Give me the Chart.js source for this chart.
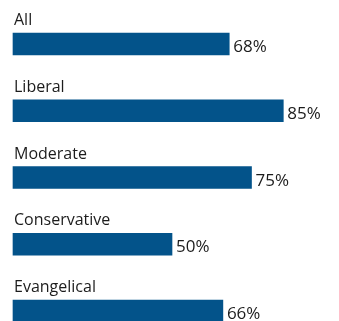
<!DOCTYPE html>
<html>
<head>
<meta charset="utf-8">
<script src="https://cdn.jsdelivr.net/npm/chart.js@4"></script>
<style>
  html, body { margin: 0; padding: 0; background: #fff; overflow: hidden; }
  canvas { display: block; }
</style>
</head>
<body>
<canvas id="chart" width="339" height="321"></canvas>
<script>
// === DATA === //
const categories = ['All', 'Liberal', 'Moderate', 'Conservative', 'Evangelical'];
const shares = [68, 85, 75, 50, 66];
const valueLabels = ['68%', '85%', '75%', '50%', '66%'];

const barColor = '#03538a';
const textColor = '#1c1c1c';

// draws the group name above each bar and the percent to its right
const barLabels = {
  id: 'barLabels',
  afterDatasetsDraw(chart) {
    const ctx = chart.ctx;
    const meta = chart.getDatasetMeta(0);
    const left = chart.chartArea.left;
    ctx.save();
    ctx.fillStyle = textColor;
    ctx.textBaseline = 'alphabetic';
    meta.data.forEach((bar, i) => {
      const top = bar.y - bar.height / 2;
      ctx.font = '16px "Open Sans"';
      ctx.textAlign = 'left';
      ctx.fillText(categories[i], left + 1, top - 8);
      ctx.font = '17px "Open Sans"';
      ctx.fillText(valueLabels[i], bar.x + 4, bar.y + 8);
    });
    ctx.restore();
  }
};

new Chart(document.getElementById('chart'), {
  type: 'bar',
  data: {
    labels: categories,
    datasets: [
      {
        data: shares,
        backgroundColor: barColor,
        borderWidth: 0,
        barThickness: 22,
        clip: false
      }
    ]
  },
  options: {
    indexAxis: 'y',
    responsive: false,
    animation: false,
    layout: {
      padding: { left: 13, right: 8, top: 44, bottom: 10 }
    },
    scales: {
      x: { display: false, min: 0, max: 100 },
      y: { display: false, offset: false, grid: { offset: false } }
    },
    plugins: {
      legend: { display: false },
      tooltip: { enabled: false }
    }
  },
  plugins: [barLabels]
});
</script>
</body>
</html>
